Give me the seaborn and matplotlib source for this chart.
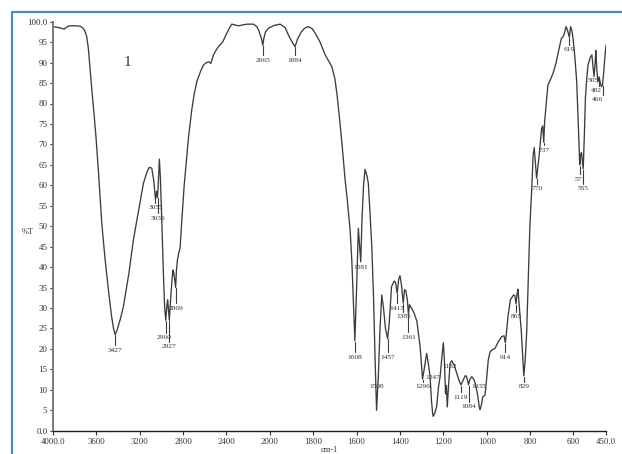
import numpy as np
import pandas as pd
import matplotlib
matplotlib.use("Agg")
import matplotlib.pyplot as plt
from matplotlib.lines import Line2D
import seaborn as sns

# FT-IR transmittance spectrum (wavenumber in cm-1, transmittance in %T)
wavenumber = [
    4000, 3950, 3898, 3860, 3843, 3800, 3751, 3730, 3711, 3690, 3674, 3660, 3643, 3620, 3603,
    3580, 3550, 3520, 3489, 3460, 3440, 3427, 3410, 3380, 3351, 3300, 3259, 3210, 3166, 3130,
    3111, 3089, 3070, 3055, 3045, 3036, 3028, 3019, 3010, 2995, 2982, 2970, 2960, 2950, 2943,
    2935, 2927, 2918, 2905, 2894, 2885, 2876, 2869, 2862, 2853, 2840, 2828, 2812, 2790, 2770,
    2751, 2720, 2700, 2674, 2640, 2613, 2590, 2566, 2544, 2520, 2497, 2474, 2434, 2397, 2370,
    2351, 2320, 2290, 2250, 2212, 2151, 2120, 2105, 2085, 2074, 2065, 2055, 2040, 2013, 1980,
    1953, 1930, 1914, 1895, 1884, 1872, 1855, 1840, 1822, 1805, 1791, 1770, 1760, 1745, 1725,
    1714, 1700, 1691, 1680, 1668, 1653, 1645, 1630, 1622, 1615, 1608, 1600, 1592, 1586, 1581,
    1575, 1568, 1561, 1553, 1546, 1538, 1530, 1522, 1515, 1508, 1500, 1492, 1484, 1476, 1467,
    1457, 1450, 1439, 1427, 1420, 1413, 1406, 1400, 1394, 1385, 1379, 1373, 1366, 1361, 1356,
    1345, 1335, 1322, 1307, 1296, 1287, 1277, 1268, 1261, 1255, 1250, 1247, 1240, 1231, 1222,
    1215, 1205, 1200, 1195, 1190, 1186, 1182, 1176, 1169, 1161, 1150, 1138, 1127, 1119, 1110,
    1100, 1095, 1089, 1084, 1078, 1069, 1060, 1053, 1043, 1035, 1031, 1025, 1018, 1008, 1000,
    993, 985, 977, 962, 946, 931, 920, 914, 908, 902, 891, 876, 870, 865, 860,
    856, 850, 840, 833, 829, 823, 816, 809, 801, 793, 786, 781, 775, 770, 765,
    758, 747, 742, 737, 733, 725, 718, 705, 694, 680, 671, 656, 648, 640, 634,
    628, 619, 613, 607, 601, 593, 585, 578, 571, 567, 563, 559, 555, 550, 545,
    539, 533, 522, 515, 510, 505, 500, 497, 492, 487, 482, 476, 471, 466, 460,
    455, 450,
]
transmittance = [
    98.8, 98.6, 98.2, 98.9, 99.0, 99.0, 98.9, 98.6, 98.0, 96.5, 93.5, 89.0, 83.7, 77.0, 71.6,
    63.0, 50.7, 42.0, 34.4, 28.0, 24.8, 23.5, 24.5, 27.2, 30.3, 38.5, 46.6, 54.0, 60.5, 63.5,
    64.4, 64.2, 61.0, 56.5, 58.5, 57.0, 61.0, 66.4, 62.0, 50.0, 38.5, 30.0, 27.0, 30.5, 32.0,
    29.5, 27.0, 31.0, 36.0, 39.3, 38.5, 36.5, 35.0, 39.0, 41.7, 43.5, 44.6, 51.5, 60.0, 66.0,
    71.5, 78.5, 82.0, 85.3, 87.8, 89.4, 89.9, 90.2, 89.8, 91.9, 93.0, 93.9, 95.1, 97.2, 98.6,
    99.4, 99.2, 99.0, 99.2, 99.4, 99.4, 98.8, 98.0, 96.5, 95.5, 94.2, 96.0, 97.5, 98.4, 99.1,
    99.4, 98.6, 96.7, 94.8, 93.9, 95.8, 97.5, 98.4, 98.8, 98.3, 97.2, 95.2, 93.9, 91.9, 90.0,
    89.0, 86.0, 82.5, 77.0, 70.5, 61.3, 57.5, 49.1, 41.5, 32.0, 22.0, 35.0, 49.5, 45.0, 41.3,
    52.0, 60.0, 63.9, 62.5, 60.5, 53.0, 45.0, 32.8, 18.0, 5.0, 13.0, 25.0, 33.2, 30.0, 25.0,
    22.5, 26.0, 35.2, 36.6, 36.2, 33.6, 37.0, 37.9, 36.0, 31.2, 34.5, 34.2, 32.0, 28.5, 30.8,
    29.8, 28.8, 26.7, 20.5, 12.6, 15.5, 18.9, 16.0, 13.2, 7.5, 4.5, 3.5, 4.2, 5.9, 10.8,
    13.2, 19.0, 21.5, 17.0, 9.0, 11.0, 5.8, 11.0, 16.5, 17.1, 16.0, 14.0, 12.2, 11.2, 12.2,
    13.4, 13.4, 12.4, 11.2, 12.5, 13.2, 12.6, 11.6, 9.1, 6.0, 5.1, 6.2, 8.3, 8.7, 13.0,
    17.3, 19.2, 19.7, 20.1, 21.8, 23.0, 23.2, 21.5, 24.5, 27.9, 32.0, 33.2, 33.0, 31.0, 33.5,
    34.6, 30.5, 23.8, 17.0, 13.4, 17.0, 23.8, 36.0, 50.0, 58.5, 67.4, 69.2, 65.0, 61.7, 64.0,
    67.4, 73.9, 74.5, 70.5, 75.6, 80.5, 84.5, 86.0, 87.4, 90.0, 92.3, 95.9, 96.3, 97.5, 98.8,
    98.0, 96.2, 98.8, 97.8, 95.5, 91.0, 85.3, 75.0, 65.0, 67.5, 68.0, 66.0, 64.0, 72.0, 81.3,
    86.0, 89.4, 91.4, 91.9, 89.0, 86.6, 90.0, 93.0, 88.0, 85.3, 86.5, 85.0, 84.1, 84.5, 88.0,
    91.5, 94.3,
]

# Assigned band positions and the %T level of each label
peak_labels = [3427, 3055, 3036, 2960, 2927, 2869, 2065, 1884, 1608, 1581, 1508, 1457,
               1413, 1385, 1361, 1296, 1247, 1182, 1119, 1084, 1035, 914, 865, 829,
               770, 737, 619, 571, 555, 505, 482, 466]
label_levels = [19.7, 54.5, 52.0, 22.7, 20.5, 30.0, 90.6, 90.6, 18.0, 39.8, 10.7, 18.0,
                30.0, 27.8, 22.9, 10.7, 13.1, 15.6, 8.2, 5.8, 10.7, 18.0, 27.8, 10.7,
                59.1, 68.6, 93.1, 61.5, 59.1, 85.7, 83.1, 80.9]

x_ticks = [4000, 3600, 3200, 2800, 2400, 2000, 1800, 1600, 1400, 1200, 1000, 800, 600, 450]
x_tick_labels = ["4000.0", "3600", "3200", "2800", "2400", "2000", "1800", "1600",
                 "1400", "1200", "1000", "800", "600", "450.0"]
y_ticks = list(range(0, 101, 5))
y_tick_labels = ["0.0"] + [str(v) for v in y_ticks[1:-1]] + ["100.0"]

sns.set_theme(style="white")
plt.rcParams["font.family"] = ["Liberation Serif", "DejaVu Serif"]

W, H = 622, 454
fig = plt.figure(figsize=(W / 100, H / 100), dpi=100)
fig.patch.set_facecolor("white")
ax = fig.add_axes([53 / W, 23.3 / H, (606 - 53) / W, (432.3 - 23.3) / H])
ax.set_facecolor("white")

df = pd.DataFrame({"wavenumber": wavenumber, "T": transmittance})
line_color = "#3c3c3c"
sns.lineplot(data=df, x="wavenumber", y="T", sort=False, estimator=None,
             color=line_color, lw=0.95, ax=ax)


# Spectrometer-style axis: the region below 2000 cm-1 is stretched by a factor of 2
def _fwd(x):
    x = np.asarray(x, dtype=float)
    return np.where(x > 2000, 2000 + (x - 2000) / 2.0, x)


def _inv(y):
    y = np.asarray(y, dtype=float)
    return np.where(y > 2000, 2000 + (y - 2000) * 2.0, y)


ax.set_xscale("function", functions=(_fwd, _inv))
ax.set_xlim(4000, 450)
ax.set_ylim(0, 100)

ax.set_xticks(x_ticks)
ax.set_xticklabels(x_tick_labels)
ax.set_yticks(y_ticks)
ax.set_yticklabels(y_tick_labels)
ax.minorticks_off()
ax.tick_params(axis="y", direction="out", length=2.5, width=0.8, pad=1.5,
               labelsize=6.5, colors="#333333", left=True)
ax.tick_params(axis="x", direction="out", length=3, width=0.8, pad=2.5,
               labelsize=6.3, colors="#333333", bottom=True)
ax.set_xlabel("")
ax.set_ylabel("")
ax.grid(False)

for side in ("top", "right"):
    ax.spines[side].set_visible(False)
ax.spines["left"].set_color("#7a7a7a")
ax.spines["left"].set_linewidth(1.4)
ax.spines["bottom"].set_color("#1e1e1e")
ax.spines["bottom"].set_linewidth(1.0)

# Peak markers and wavenumber labels
wn_inc = np.array(wavenumber[::-1], dtype=float)
t_inc = np.array(transmittance[::-1], dtype=float)
label_shift = {2960: -2, 1182: 2, 505: -1, 482: -3, 466: -5}
for wn, lvl in zip(peak_labels, label_levels):
    t_curve = float(np.interp(wn, wn_inc, t_inc))
    top = t_curve - 0.2
    bottom = lvl + 1.2
    if top > bottom:
        ax.plot([wn, wn], [bottom, top], color=line_color, lw=0.8)
    ax.annotate(str(wn), xy=(wn, lvl), xytext=(label_shift.get(wn, 0), 0),
                textcoords="offset pixels", ha="center", va="center",
                fontsize=5.3, color="#333333")

ax.text(3317, 90.1, "1", fontsize=11, ha="center", va="center", color="#333333")

fig.text(27.5 / W, 1 - 232 / H, "%T", fontsize=6, ha="center", va="center", color="#333333")
fig.text(329 / W, 1 - 450 / H, "cm-1", fontsize=6, ha="center", va="center", color="#333333")

# Blue frame along the top and left edges of the figure
frame_color = "#5586c8"
fig.add_artist(Line2D([12 / W, 12 / W], [0, 1 - 12 / H], transform=fig.transFigure,
                      color=frame_color, lw=1.6))
fig.add_artist(Line2D([12 / W, 1], [1 - 12 / H, 1 - 12 / H], transform=fig.transFigure,
                      color=frame_color, lw=1.6))

fig.savefig("out.png", dpi=100, facecolor="white")
